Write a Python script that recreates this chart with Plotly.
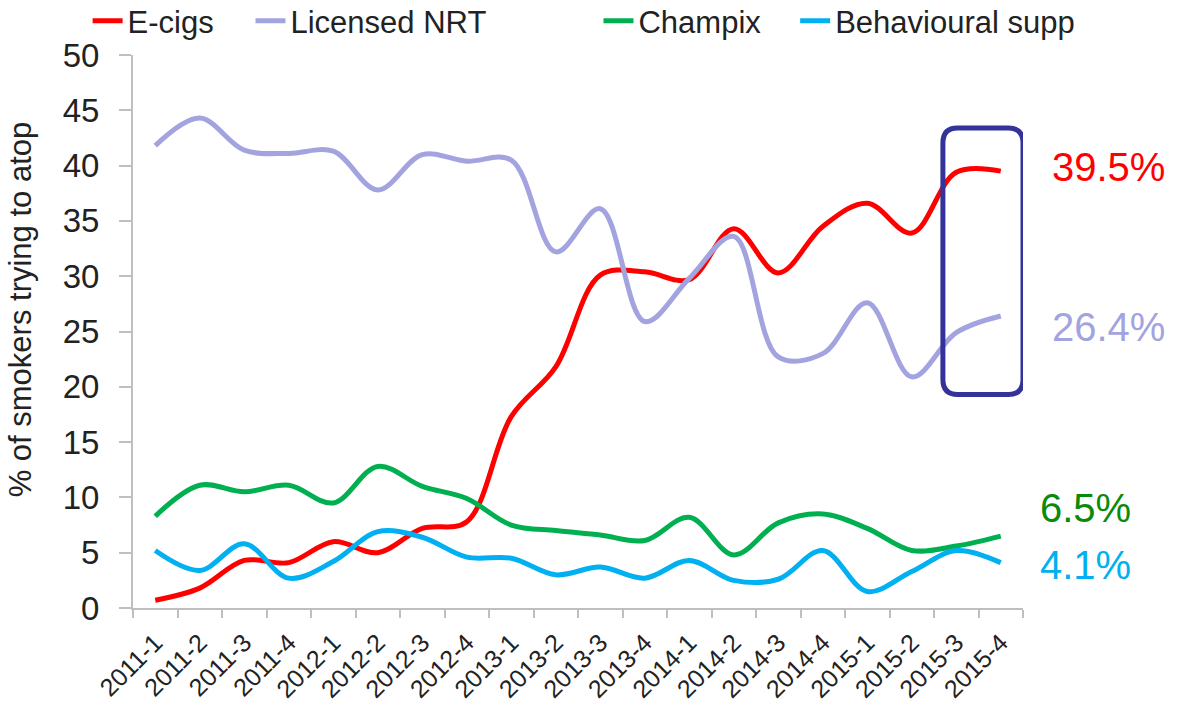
import plotly.graph_objects as go

quarters = ["2011-1", "2011-2", "2011-3", "2011-4", "2012-1", "2012-2", "2012-3", "2012-4",
            "2013-1", "2013-2", "2013-3", "2013-4", "2014-1", "2014-2", "2014-3", "2014-4",
            "2015-1", "2015-2", "2015-3", "2015-4"]

ecigs = [0.7, 1.8, 4.3, 4.1, 6.0, 5.0, 7.2, 7.8, 17.3, 21.8, 30.1, 30.4, 29.7, 34.3, 30.3, 34.5,
         36.6, 33.9, 39.4, 39.5]
nrt = [41.8, 44.3, 41.4, 41.1, 41.3, 37.8, 41.0, 40.4, 40.5, 32.2, 36.1, 25.9, 29.8, 33.6, 22.7,
       23.0, 27.6, 20.9, 24.9, 26.4]
champix = [8.3, 11.1, 10.5, 11.1, 9.5, 12.8, 11.0, 9.9, 7.5, 7.0, 6.6, 6.1, 8.2, 4.8, 7.7, 8.5,
           7.2, 5.2, 5.6, 6.5]
behavioural = [5.2, 3.4, 5.8, 2.7, 4.2, 6.9, 6.4, 4.6, 4.5, 3.0, 3.7, 2.7, 4.3, 2.5, 2.6, 5.2,
               1.5, 3.3, 5.2, 4.1]

end_labels = ["39.5%", "26.4%", "6.5%", "4.1%"]
label_y = [39.9, 25.4, 9.0, 3.9]

FONT = "Liberation Sans, Arial, sans-serif"
AXIS_GREY = "#BFBFBF"

series = [
    ("E-cigs", ecigs, "#FF0000", "#FF0000"),
    ("Licensed NRT", nrt, "#A3A3E0", "#A3A3E0"),
    ("Champix", champix, "#00B050", "#0A8A0A"),
    ("Behavioural supp", behavioural, "#00B0F0", "#00B0F0"),
]
legend_x = [-0.051, 0.132, 0.523, 0.744]
label_x = [1.03, 1.03, 1.017, 1.017]

x = list(range(len(quarters)))
fig = go.Figure()
for k, (name, vals, colour, _) in enumerate(series):
    fig.add_trace(go.Scatter(
        x=x, y=vals, name=name, mode="lines",
        line=dict(color=colour, width=5, shape="spline", smoothing=1.0),
        legend="legend" if k == 0 else f"legend{k + 1}",
    ))

# highlight box round the last two quarters
x0, x1, y0, y1 = 17.7, 19.5, 19.3, 43.4
rx, ry = 0.33, 1.35
box = (f"M {x0 + rx},{y1} L {x1 - rx},{y1} Q {x1},{y1} {x1},{y1 - ry} "
       f"L {x1},{y0 + ry} Q {x1},{y0} {x1 - rx},{y0} L {x0 + rx},{y0} "
       f"Q {x0},{y0} {x0},{y0 + ry} L {x0},{y1 - ry} Q {x0},{y1} {x0 + rx},{y1} Z")
fig.add_shape(type="path", path=box, xref="x", yref="y",
              line=dict(color="#333399", width=5))

for (name, vals, _, txt_colour), lab, lx, ly in zip(series, end_labels, label_x, label_y):
    fig.add_annotation(x=lx, xref="paper", y=ly, yref="y", text=lab, showarrow=False,
                       xanchor="left", yanchor="middle",
                       font=dict(family=FONT, size=40, color=txt_colour))

# y axis title as annotation (sits a little above the plot's middle)
fig.add_annotation(x=-0.127, xref="paper", y=0.54, yref="paper", textangle=-90,
                   text="% of smokers trying to atop", showarrow=False,
                   xanchor="center", yanchor="middle",
                   font=dict(family=FONT, size=31, color="#222222"))

legend_style = dict(orientation="h", yanchor="top", y=1.11, xanchor="left",
                    font=dict(family=FONT, size=31, color="#222222"),
                    bgcolor="rgba(0,0,0,0)", itemwidth=30)
layout_legends = {}
for k, lx in enumerate(legend_x):
    key = "legend" if k == 0 else f"legend{k + 1}"
    layout_legends[key] = dict(legend_style, x=lx)

fig.update_layout(
    width=1190, height=706,
    margin=dict(l=133, r=167, t=55, b=98, autoexpand=False),
    paper_bgcolor="white", plot_bgcolor="white",
    font=dict(family=FONT, color="#222222"),
    showlegend=True,
    xaxis=dict(
        range=[-0.5, len(quarters) - 0.5], tickmode="array", tickvals=x, ticktext=quarters,
        tickangle=-45, ticks="", showgrid=False, zeroline=False, ticklabelstandoff=8,
        showline=True, linecolor=AXIS_GREY, linewidth=2,
        tickfont=dict(family=FONT, size=25, color="#222222"),
        minor=dict(tickmode="array", tickvals=[i - 0.5 for i in range(len(quarters) + 1)],
                   ticks="outside", ticklen=8, tickwidth=2, tickcolor=AXIS_GREY),
    ),
    yaxis=dict(
        range=[0, 50], tickmode="linear", tick0=0, dtick=5,
        ticks="outside", ticklen=12, tickwidth=2, tickcolor=AXIS_GREY, ticklabelstandoff=13,
        showgrid=False, zeroline=False, showline=True, linecolor=AXIS_GREY, linewidth=2,
        tickfont=dict(family=FONT, size=33, color="#222222"),
    ),
    **layout_legends,
)

# drop the page's default body margin so the figure fills the window exactly
fig.write_html("out.html", config={"displayModeBar": False},
               post_script="document.body.style.margin='0';")
